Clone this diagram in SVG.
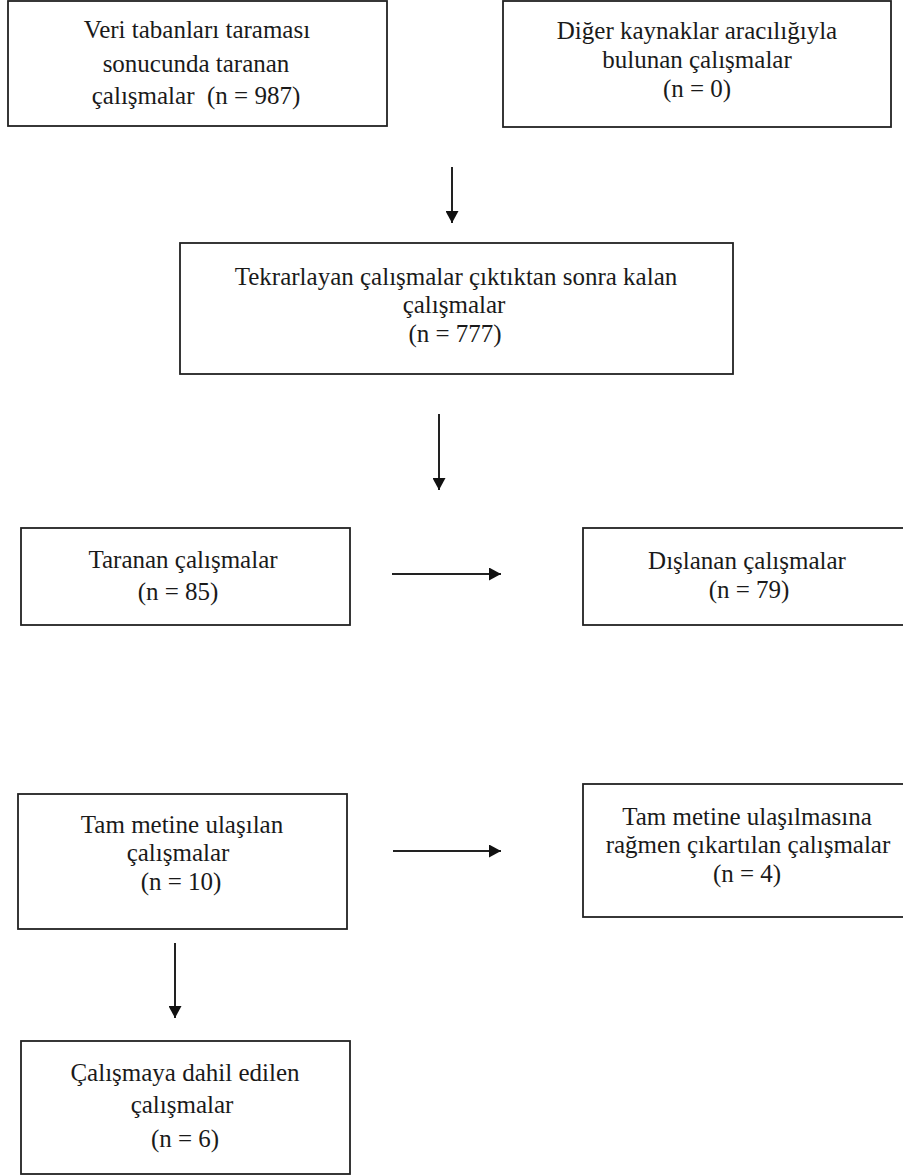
<svg xmlns="http://www.w3.org/2000/svg" width="903" height="1175" viewBox="0 0 903 1175">
<style>
.box{fill:#fff;stroke:#222;stroke-width:1.8}
.t{font-family:"Liberation Serif","Times New Roman",Times,serif;font-size:25px;fill:#1a1a1a;text-anchor:middle}
.c{stroke:#222;stroke-width:2;fill:none}
</style>
<defs>
<marker id="ah" markerUnits="userSpaceOnUse" markerWidth="13" markerHeight="13" refX="12" refY="6.5" orient="auto">
<path d="M0,0 L12,6.5 L0,13 z" fill="#111"/>
</marker>
</defs>
<rect width="903" height="1175" fill="#fff"/>
<g id="n1">
<rect class="box" x="8" y="1" width="379" height="125"/>
<text class="t" x="197" y="38">Veri tabanları taraması</text>
<text class="t" x="196" y="72">sonucunda taranan</text>
<text class="t" x="196" y="104" xml:space="preserve">çalışmalar  (n = 987)</text>
</g>
<g id="n2">
<rect class="box" x="503" y="1" width="388" height="126"/>
<text class="t" x="697" y="39">Diğer kaynaklar aracılığıyla</text>
<text class="t" x="697" y="68">bulunan çalışmalar</text>
<text class="t" x="697" y="97">(n = 0)</text>
</g>
<g id="n3">
<rect class="box" x="180" y="243" width="553" height="131"/>
<text class="t" x="456" y="285">Tekrarlayan çalışmalar çıktıktan sonra kalan</text>
<text class="t" x="454" y="313">çalışmalar</text>
<text class="t" x="455" y="342">(n = 777)</text>
</g>
<g id="n4">
<rect class="box" x="21" y="528" width="329" height="97"/>
<text class="t" x="183" y="568">Taranan çalışmalar</text>
<text class="t" x="178" y="600">(n = 85)</text>
</g>
<g id="n5">
<rect class="box" x="583" y="528" width="330" height="97"/>
<text class="t" x="747" y="569">Dışlanan çalışmalar</text>
<text class="t" x="749" y="598">(n = 79)</text>
</g>
<g id="n6">
<rect class="box" x="18" y="794" width="329" height="135"/>
<text class="t" x="182" y="833">Tam metine ulaşılan</text>
<text class="t" x="178" y="861">çalışmalar</text>
<text class="t" x="181" y="890">(n = 10)</text>
</g>
<g id="n7">
<rect class="box" x="583" y="784" width="330" height="133"/>
<text class="t" x="747" y="825">Tam metine ulaşılmasına</text>
<text class="t" x="748" y="853">rağmen çıkartılan çalışmalar</text>
<text class="t" x="747" y="882">(n = 4)</text>
</g>
<g id="n8">
<rect class="box" x="21" y="1041" width="329" height="133"/>
<text class="t" x="185" y="1081">Çalışmaya dahil edilen</text>
<text class="t" x="182" y="1113">çalışmalar</text>
<text class="t" x="185" y="1147">(n = 6)</text>
</g>
<g id="connectors">
<line class="c" x1="452" y1="167" x2="452" y2="223" marker-end="url(#ah)"/>
<line class="c" x1="439" y1="414" x2="439" y2="490" marker-end="url(#ah)"/>
<line class="c" x1="392" y1="574" x2="501" y2="574" marker-end="url(#ah)"/>
<line class="c" x1="393" y1="851" x2="501" y2="851" marker-end="url(#ah)"/>
<line class="c" x1="175" y1="943" x2="175" y2="1018" marker-end="url(#ah)"/>
</g>
</svg>
